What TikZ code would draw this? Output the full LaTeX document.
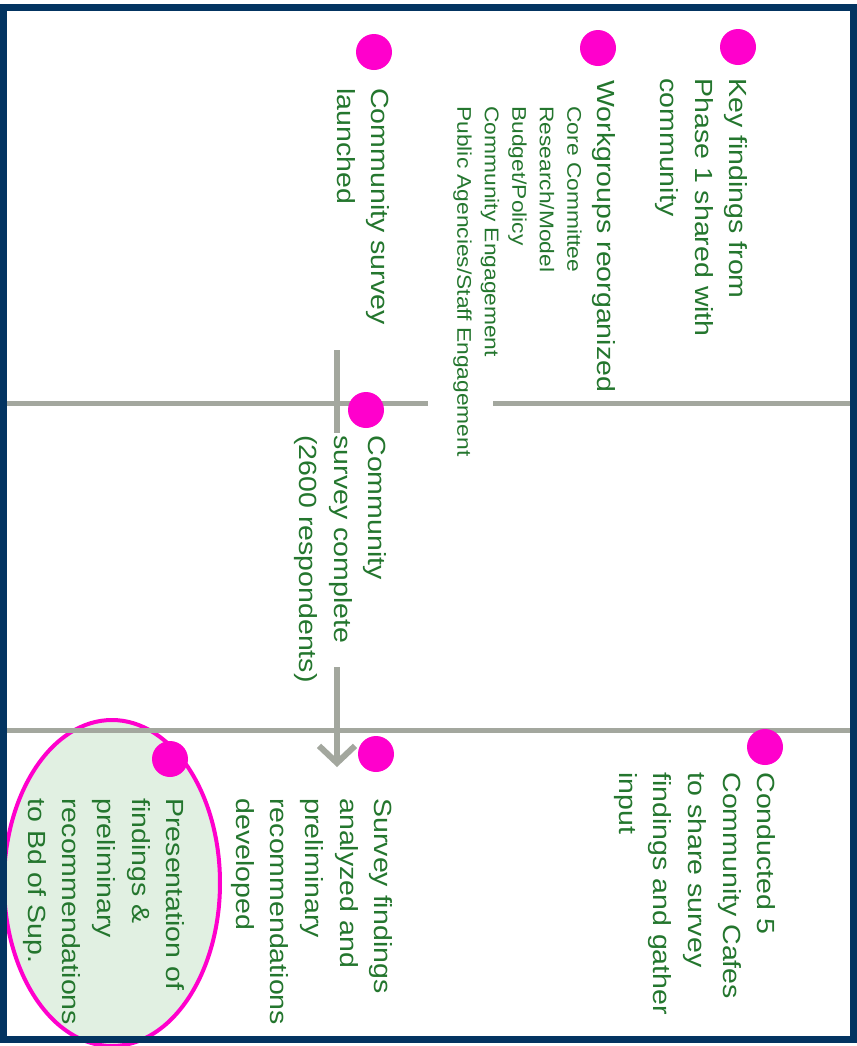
\documentclass[tikz,border=0pt]{standalone}
\usepackage{fontspec}
\setmainfont{Liberation Sans}
\newfontfamily\tlfont{Liberation Sans}[FakeStretch=1.15]
\usetikzlibrary{arrows.meta}
\definecolor{navy}{RGB}{3,52,97}
\definecolor{mag}{RGB}{255,0,204}
\definecolor{tgreen}{RGB}{36,118,46}
\definecolor{egreen}{RGB}{225,240,226}
\definecolor{lgray}{RGB}{163,167,158}
\begin{document}
\begin{tikzpicture}[x=0.5pt,y=-0.5pt,
  dot/.style={circle, fill=mag, minimum size=18pt, inner sep=0pt},
  lbl/.style={rotate=-90, anchor=north west, inner sep=0pt, align=left, text=tgreen,
    font=\tlfont\fontsize{12.4}{17.3}\selectfont},
  sublbl/.style={lbl, font=\tlfont\fontsize{9.9}{13.75}\selectfont},
  tline/.style={draw=lgray, line width=2.5pt},
  arr/.style={draw=lgray, line width=3pt},
]
\useasboundingbox (0,0) rectangle (857,1046);
\fill[white] (0,0) rectangle (857,1046);
% highlight ellipse
\draw[mag, line width=2pt, fill=egreen] (112,883) ellipse [x radius=108, y radius=163];
% timeline lines
\coordinate (h1a) at (5,403);   \coordinate (h1b) at (428,403);
\coordinate (h1c) at (493,403); \coordinate (h1d) at (851,403);
\coordinate (h2a) at (5,730);   \coordinate (h2b) at (851,730);
\draw[tline] (h1a) -- (h1b);
\draw[tline] (h1c) -- (h1d);
\draw[tline] (h2a) -- (h2b);
% vertical arrow
\coordinate (v1) at (337,350); \coordinate (v2) at (337,433);
\coordinate (v3) at (337,667); \coordinate (v4) at (337,767);
\draw[arr] (v1) -- (v2);
\draw[arr, -{Straight Barb[length=8.5pt,width=18pt]}] (v3) -- (v4);
% dots
\node[dot] (d1) at (738,47) {};
\node[dot] (d2) at (598,48) {};
\node[dot] (d3) at (374,52) {};
\node[dot] (d4) at (366,410) {};
\node[dot] (d5) at (765,747) {};
\node[dot] (d6) at (376,754) {};
\node[dot] (d7) at (170,759) {};
% labels
\node[lbl] (t1) at (748,78) {Key findings from\\Phase 1 shared with\\community};
\node[lbl] (t2) at (616,80) {Workgroups reorganized};
\node[sublbl] (t2s) at (582,106) {Core Committee\\Research/Model\\Budget/Policy\\Community Engagement\\Public Agencies/Staff Engagement};
\node[lbl] (t3) at (390,88) {Community survey\\launched};
\node[lbl] (t4) at (387,435) {Community\\survey complete\\(2600 respondents)};
\node[lbl] (t5) at (776,772) {Conducted 5\\Community Cafes\\to share survey\\findings and gather\\input};
\node[lbl] (t6) at (393,798) {Survey findings\\analyzed and\\preliminary\\recommendations\\developed};
\node[lbl] (t7) at (185,798) {Presentation of\\findings \&\\preliminary\\recommendations\\to Bd of Sup.};
% frame
\draw[navy, line width=3.5pt] (3,7.5) rectangle (853,1039);
\end{tikzpicture}
\end{document}
